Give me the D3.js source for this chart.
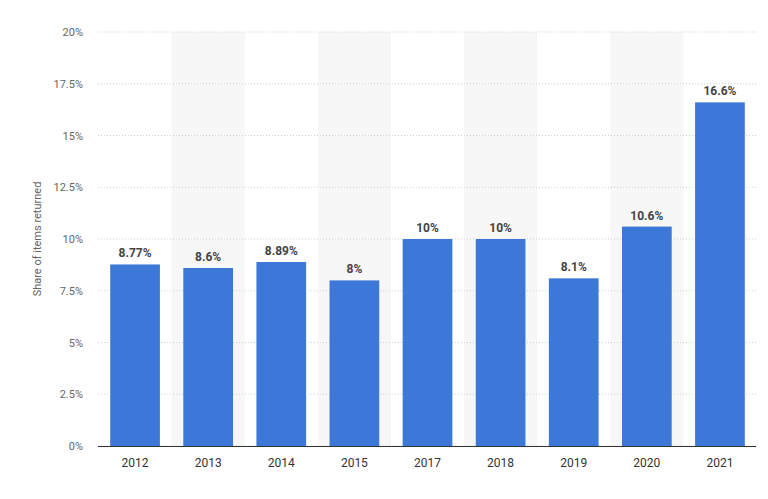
<!DOCTYPE html>
<html><head><meta charset="utf-8">
<script src="https://cdn.jsdelivr.net/npm/d3@7"></script>
<style>body{margin:0;background:#fff;font-family:Roboto,"Open Sans",sans-serif}</style>
</head><body><svg id="c" width="768" height="499"></svg>
<script>
const categories=["2012","2013","2014","2015","2017","2018","2019","2020","2021"];
const values=[8.77,8.6,8.89,8,10,10,8.1,10.6,16.6];
const labels=["8.77%","8.6%","8.89%","8%","10%","10%","8.1%","10.6%","16.6%"];
const yTicks=[0,2.5,5,7.5,10,12.5,15,17.5,20];
const svg=d3.select("#c");
const x=d3.scaleBand().domain(categories).range([98.5,756.5]).paddingInner(0.32).paddingOuter(0.16);
const y=d3.scaleLinear().domain([0,20]).range([446,32]);
const step=x.step();
svg.selectAll("rect.band").data(categories.filter((d,i)=>i%2==1)).enter().append("rect")
 .attr("x",d=>x(d)+x.bandwidth()/2-step/2).attr("width",step).attr("y",32).attr("height",414).attr("fill","#f7f7f7");
svg.selectAll("line.g").data(yTicks).enter().append("line")
 .attr("x1",98).attr("x2",756).attr("y1",d=>y(d)).attr("y2",d=>y(d))
 .attr("stroke","#cfcfcf").attr("stroke-dasharray","1,2");
svg.selectAll("text.yt").data(yTicks).enter().append("text")
 .attr("x",83).attr("y",d=>y(d)+4).attr("text-anchor","end").attr("font-size",11).attr("fill","#666")
 .text(d=>d+"%");
svg.append("text").attr("transform","translate(41,239) rotate(-90)").attr("text-anchor","middle")
 .attr("font-size",11).attr("fill","#666").text("Share of items returned");
svg.selectAll("rect.bar").data(values).enter().append("rect")
 .attr("x",(d,i)=>x(categories[i])).attr("width",x.bandwidth())
 .attr("y",d=>y(d)).attr("height",d=>446-y(d)).attr("fill","#3c78d8");
svg.selectAll("text.v").data(values).enter().append("text")
 .attr("x",(d,i)=>x(categories[i])+x.bandwidth()/2).attr("y",d=>y(d)-7)
 .attr("text-anchor","middle").attr("font-size",12).attr("font-weight","bold").attr("fill","#444")
 .text((d,i)=>labels[i]);
svg.append("line").attr("x1",98).attr("x2",756).attr("y1",446.5).attr("y2",446.5).attr("stroke","#333");
svg.selectAll("text.xt").data(categories).enter().append("text")
 .attr("x",d=>x(d)+x.bandwidth()/2).attr("y",467).attr("text-anchor","middle")
 .attr("font-size",12).attr("fill","#333").text(d=>d);
</script></body></html>
